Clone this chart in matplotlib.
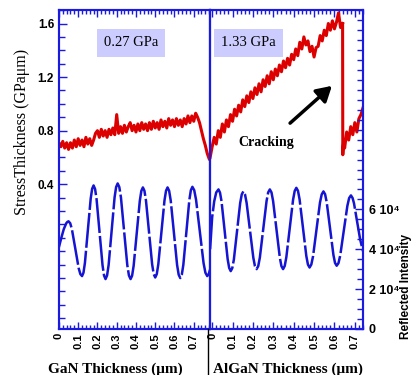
import numpy as np
import matplotlib
matplotlib.use("Agg")
import matplotlib.pyplot as plt
from matplotlib.ticker import FixedLocator, MultipleLocator
from matplotlib.lines import Line2D
from matplotlib.patches import FancyArrowPatch

# stress-thickness (GPa um), GaN layer, 0.01 um steps
red_gan_x = np.linspace(0, 0.78, 79)
red_gan_y = [0.71, 0.68, 0.72, 0.67, 0.71, 0.66, 0.71, 0.67, 0.73, 0.68,
             0.74, 0.69, 0.73, 0.68, 0.75, 0.70, 0.74, 0.69, 0.73, 0.78,
             0.80, 0.75, 0.81, 0.76, 0.80, 0.75, 0.81, 0.77, 0.82, 0.77,
             0.92, 0.78, 0.83, 0.78, 0.84, 0.79, 0.83, 0.86, 0.80, 0.84,
             0.79, 0.85, 0.80, 0.86, 0.81, 0.85, 0.80, 0.86, 0.81, 0.87,
             0.82, 0.86, 0.81, 0.88, 0.83, 0.87, 0.82, 0.89, 0.84, 0.88,
             0.83, 0.89, 0.84, 0.88, 0.83, 0.89, 0.85, 0.91, 0.86, 0.91,
             0.87, 0.93, 0.90, 0.86, 0.80, 0.74, 0.69, 0.63, 0.59]

# stress-thickness, AlGaN layer up to cracking
red_algan_x = np.linspace(-0.01, 0.64, 66)
red_algan_y = [0.60, 0.68, 0.75, 0.70, 0.80, 0.75, 0.85, 0.79, 0.88, 0.83,
               0.92, 0.87, 0.96, 0.91, 0.99, 0.94, 1.03, 0.98, 1.06, 1.01,
               1.09, 1.04, 1.12, 1.07, 1.15, 1.09, 1.18, 1.13, 1.21, 1.15,
               1.24, 1.18, 1.26, 1.21, 1.29, 1.24, 1.32, 1.27, 1.34, 1.29,
               1.37, 1.33, 1.41, 1.36, 1.46, 1.41, 1.50, 1.44, 1.47, 1.39,
               1.43, 1.35, 1.42, 1.43, 1.51, 1.47, 1.55, 1.51, 1.60, 1.55,
               1.62, 1.56, 1.61, 1.68, 1.57, 1.60]
# after cracking
red_crack_x = [0.641, 0.645, 0.65, 0.66, 0.67, 0.68, 0.69, 0.70, 0.71, 0.72, 0.73, 0.74]
red_crack_y = [0.62, 0.72, 0.67, 0.79, 0.73, 0.83, 0.77, 0.86, 0.79, 0.89, 0.92, 0.97]

# reflected intensity (x 1e4)
blue_gan_x = [0.0, 0.012, 0.025, 0.038, 0.044, 0.05,
              0.05875, 0.0675, 0.085, 0.1025, 0.11125, 0.12,
              0.1275, 0.135, 0.15, 0.165, 0.1725, 0.18,
              0.18775, 0.1955, 0.211, 0.2265, 0.23425, 0.242,
              0.25, 0.258, 0.2735, 0.289, 0.297, 0.305,
              0.3135, 0.322, 0.3385, 0.355, 0.3635, 0.372,
              0.38, 0.388, 0.404, 0.42, 0.428, 0.436,
              0.444, 0.452, 0.468, 0.484, 0.492, 0.50,
              0.508, 0.516, 0.532, 0.548, 0.556, 0.564,
              0.57225, 0.5805, 0.597, 0.6135, 0.62175, 0.63,
              0.638, 0.646, 0.6615, 0.677, 0.685, 0.693,
              0.7025, 0.712, 0.7315, 0.751, 0.7605, 0.77,
              0.778, 0.785]
blue_gan_y = [4.1, 4.55, 5.0, 5.3, 5.37, 5.4,
              5.30, 5.0, 4.03, 3.05, 2.75, 2.65,
              2.82, 3.31, 4.93, 6.54, 7.03, 7.2,
              7.02, 6.51, 4.85, 3.19, 2.68, 2.5,
              2.68, 3.2, 4.9, 6.6, 7.12, 7.3,
              7.12, 6.6, 4.9, 3.2, 2.68, 2.5,
              2.67, 3.17, 4.8, 6.43, 6.93, 7.1,
              6.93, 6.44, 4.84, 3.24, 2.75, 2.58,
              2.75, 3.24, 4.84, 6.44, 6.93, 7.1,
              6.93, 6.44, 4.83, 3.21, 2.72, 2.55,
              2.72, 3.22, 4.84, 6.46, 6.96, 7.13,
              6.96, 6.48, 4.89, 3.30, 2.82, 2.65,
              2.75, 3.0]
blue_algan_x = [-0.01, 0.0, 0.01, 0.02, 0.031,
                0.0385, 0.046, 0.061, 0.076, 0.0835, 0.091,
                0.09875, 0.1065, 0.122, 0.1375, 0.14525, 0.153,
                0.1611, 0.169, 0.1855, 0.202, 0.2099, 0.218,
                0.2261, 0.234, 0.2505, 0.267, 0.2749, 0.283,
                0.2911, 0.299, 0.3155, 0.332, 0.3399, 0.348,
                0.3561, 0.364, 0.3805, 0.397, 0.4049, 0.413,
                0.4211, 0.429, 0.4455, 0.462, 0.4699, 0.478,
                0.4865, 0.495, 0.512, 0.529, 0.5375, 0.546,
                0.5541, 0.562, 0.5785, 0.595, 0.6029, 0.611,
                0.61975, 0.6285, 0.646, 0.6635, 0.67225, 0.681,
                0.689, 0.696, 0.711, 0.726, 0.74]
blue_algan_y = [4.0, 5.6, 6.4, 6.85, 7.0,
                6.84, 6.4, 4.95, 3.5, 3.06, 2.9,
                3.05, 3.48, 4.9, 6.32, 6.75, 6.9,
                6.75, 6.33, 4.95, 3.57, 3.15, 3.0,
                3.15, 3.58, 5.0, 6.42, 6.85, 7.0,
                6.85, 6.42, 5.0, 3.58, 3.15, 3.0,
                3.16, 3.6, 5.04, 6.48, 6.92, 7.08,
                6.93, 6.5, 5.08, 3.66, 3.23, 3.08,
                3.23, 3.64, 4.99, 6.34, 6.75, 6.9,
                6.76, 6.36, 5.04, 3.71, 3.31, 3.17,
                3.3, 3.69, 4.94, 6.18, 6.57, 6.7,
                6.57, 6.3, 5.4, 4.5, 3.9]

x_ticks = [0, 0.1, 0.2, 0.3, 0.4, 0.5, 0.6, 0.7]
x_labels = ["0", "0.1", "0.2", "0.3", "0.4", "0.5", "0.6", "0.7"]
stress_ticks = [0.4, 0.8, 1.2, 1.6]
stress_labels = ["0.4", "0.8", "1.2", "1.6"]
intensity_ticks = [0, 2e4, 4e4, 6e4]
intensity_labels = ["0", "2 10⁴", "4 10⁴", "6 10⁴"]

RED = "#dd0000"
BLUE = "#1414d2"
SPINE = "#1a1ae0"
SANS = ["Liberation Sans", "DejaVu Sans"]
SERIF = "Liberation Serif"

fig = plt.figure(figsize=(4.12, 3.75), dpi=100)
ax1 = fig.add_axes([0.143, 0.123, 0.367, 0.850])
ax2 = fig.add_axes([0.510, 0.123, 0.371, 0.850])
ax1b = ax1.twinx()
ax2b = ax2.twinx()

ax1.plot(red_gan_x, red_gan_y, color=RED, lw=2.2)
ax2.plot(red_algan_x, red_algan_y, color=RED, lw=2.2)
ax2.plot([red_algan_x[-1]] + red_crack_x, [red_algan_y[-1]] + red_crack_y, color=RED, lw=2.2)
ax1b.plot(blue_gan_x, np.array(blue_gan_y) * 1e4, color=BLUE, lw=1.8, ls=(0, (14, 1.2)))
ax2b.plot(blue_algan_x, np.array(blue_algan_y) * 1e4, color=BLUE, lw=1.8, ls=(0, (14, 1.2)))

ax1.set_xlim(0, 0.785)
ax2.set_xlim(-0.01, 0.74)
for a in (ax1, ax2):
    a.set_ylim(-0.68, 1.70)
for a in (ax1b, ax2b):
    a.set_ylim(0, 1.6e5)

for a in (ax1, ax2, ax1b, ax2b):
    for s in a.spines.values():
        s.set_color(SPINE)
        s.set_linewidth(1.5)

for a in (ax1, ax2):
    a.set_xticks(x_ticks)
    a.set_xticklabels(x_labels, rotation=90, fontsize=8, fontweight="bold", family=SANS)
    a.xaxis.set_minor_locator(MultipleLocator(0.02))
    a.tick_params(axis="x", which="both", direction="in", top=True, bottom=True,
                  color=SPINE, pad=3)
    a.tick_params(axis="x", which="major", length=5, width=1)
    a.tick_params(axis="x", which="minor", length=3, width=1)

ax1.yaxis.set_major_locator(FixedLocator(stress_ticks))
ax1.yaxis.set_minor_locator(MultipleLocator(0.1))
ax1.set_yticklabels(stress_labels, fontsize=8.5, fontweight="bold", family=SANS)
ax1.tick_params(axis="y", which="both", direction="in", left=True, right=False,
                color=SPINE, width=1)
ax1.tick_params(axis="y", which="major", length=6)
ax1.tick_params(axis="y", which="minor", length=4)
ax2.tick_params(axis="y", which="both", left=False, right=False, labelleft=False)
ax1b.tick_params(axis="y", which="both", right=False, labelright=False)

ax2b.yaxis.set_major_locator(FixedLocator(intensity_ticks))
ax2b.yaxis.set_minor_locator(MultipleLocator(5000))
ax2b.set_yticklabels(intensity_labels, fontsize=9, fontweight="bold", family=SANS)
ax2b.tick_params(axis="y", which="both", direction="in", color=SPINE, width=1, pad=4)
ax2b.tick_params(axis="y", which="major", length=6)
ax2b.tick_params(axis="y", which="minor", length=4)

fig.text(0.053, 0.648, "StressThickness (GPaμm)", rotation=90, ha="center", va="center",
         fontsize=11.5, family=SERIF)
fig.text(48 / 412, 0.006, "GaN Thickness (μm)", ha="left", va="baseline",
         fontsize=11, fontweight="bold", family=SERIF)
fig.text(213 / 412, 0.006, "AlGaN Thickness (μm)", ha="left", va="baseline",
         fontsize=11, fontweight="bold", family=SERIF)
fig.text(400 / 412, 0.237, "Reflected Intensity", rotation=90, ha="left", va="center",
         fontsize=8.5, fontweight="bold", family=SANS)

box = dict(boxstyle="square,pad=0.5", facecolor="#ccccff", edgecolor="none")
fig.text(131 / 412, 1 - 43 / 375, "0.27 GPa", ha="center", va="center",
         fontsize=10.5, family=SERIF, bbox=box)
fig.text(248.5 / 412, 1 - 43 / 375, "1.33 GPa", ha="center", va="center",
         fontsize=10.5, family=SERIF, bbox=box)

fig.text(266.5 / 412, 1 - 142 / 375, "Cracking", ha="center", va="center",
         fontsize=10, fontweight="bold", family=SERIF)
fig.add_artist(FancyArrowPatch(
    (288 / 412, 1 - 125 / 375), (334 / 412, 1 - 84 / 375), transform=fig.transFigure,
    arrowstyle="-|>,head_length=6,head_width=3.5", color="black", lw=2.5,
    mutation_scale=1.5))

fig.add_artist(Line2D([208 / 412, 208 / 412], [0, 0.123], transform=fig.transFigure,
                      color="black", lw=1))

fig.savefig("out.png", dpi=100)
